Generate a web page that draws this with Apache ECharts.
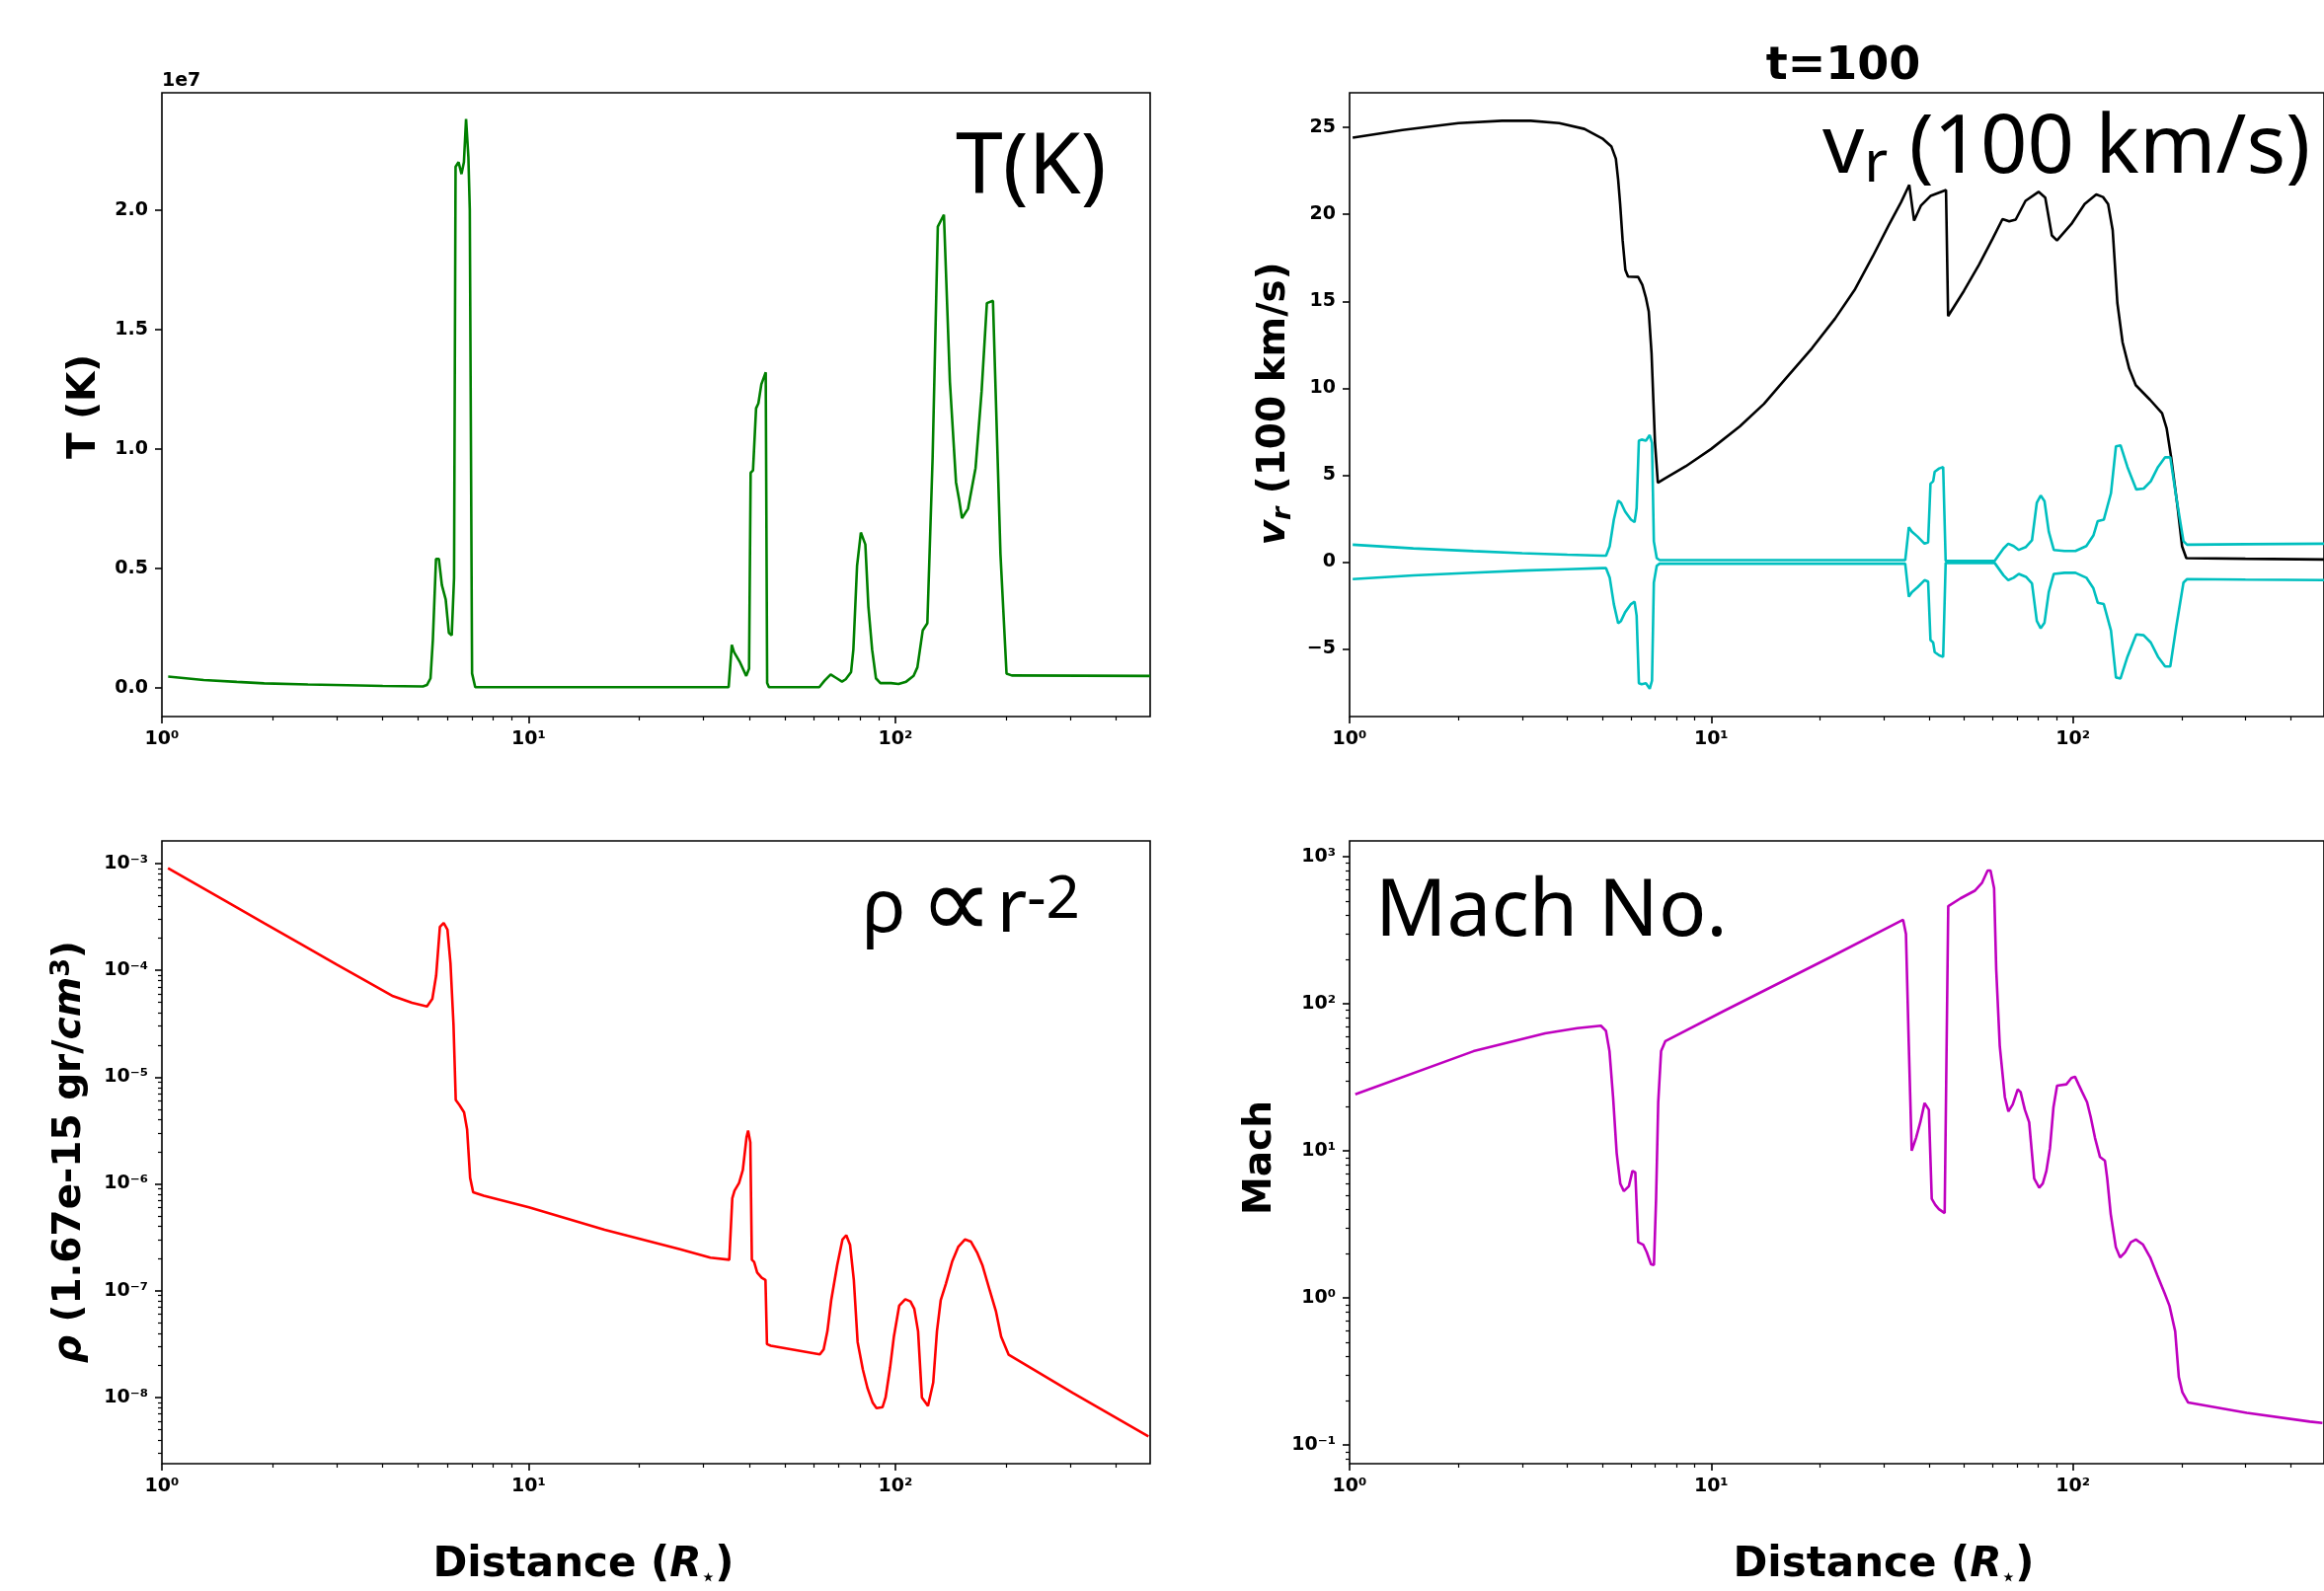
<!DOCTYPE html>
<html>
<head>
    <meta charset="utf-8">
    <style type="text/css">
        html, body {
            margin: 0;
            padding: 0;
            background: #fff;
        }
        #container {
            width: 2354px;
            height: 1612px;
        }
    </style>
    <script type="text/javascript" src="https://cdn.jsdelivr.net/npm/echarts@6.0.0/dist/echarts.min.js"></script>
</head>
<body>
<div id="container"></div>
<script type="text/javascript">
    // distance axis (R*), log
    const distMin = 1;
    const distMax = 495;
    const distTicks = [1, 10, 100];

    // tick labels of the four value axes
    const tempTicks = [0, 0.5, 1, 1.5, 2];
    const velTicks = [-5, 0, 5, 10, 15, 20, 25];
    const rhoTicks = [1e-8, 1e-7, 1e-6, 1e-5, 1e-4, 1e-3];
    const machTicks = [0.1, 1, 10, 100, 1000];

    // temperature, in units of 1e7 K
    const tempR = [1.04, 1.3, 1.6, 1.9, 2.5, 3.2, 4.0, 5.15, 5.28, 5.40,
        5.48, 5.59, 5.69, 5.80, 5.94, 6.06, 6.17, 6.26, 6.32, 6.44,
        6.56, 6.66, 6.75, 6.85, 6.91, 7.01, 7.15, 35.1, 35.8, 36.3,
        37.6, 39.2, 39.9, 40.3, 40.9, 41.7, 42.3, 43.1, 44.3, 44.7,
        45.2, 62.0, 64.1, 66.6, 69.2, 71.5, 73.2, 75.7, 76.8, 78.6,
        80.5, 82.8, 84.4, 86.4, 88.5, 91.0, 97.3, 102.0, 107.0, 112.1,
        114.8, 118.7, 122.2, 126.3, 130.5, 135.6, 140.8, 146.3, 149.1, 151.9,
        157.8, 165.4, 171.8, 177.6, 184.5, 193.4, 200.9, 207.7, 495];
    const tempVal = [0.047, 0.033, 0.025, 0.019, 0.014, 0.011, 0.008, 0.006, 0.012, 0.04,
        0.2, 0.54, 0.54, 0.43, 0.37, 0.23, 0.22, 0.46, 2.18, 2.2,
        2.15, 2.2, 2.38, 2.22, 2.0, 0.06, 0.003, 0.003, 0.18, 0.15,
        0.11, 0.05, 0.08, 0.9, 0.91, 1.17, 1.19, 1.27, 1.32, 0.02,
        0.003, 0.003, 0.03, 0.056, 0.04, 0.026, 0.036, 0.066, 0.16, 0.51,
        0.65, 0.6, 0.34, 0.16, 0.04, 0.02, 0.02, 0.016, 0.026, 0.05,
        0.086, 0.24, 0.27, 0.96, 1.93, 1.98, 1.28, 0.86, 0.79, 0.71,
        0.75, 0.92, 1.24, 1.61, 1.62, 0.56, 0.06, 0.052, 0.05];

    // radial velocity (100 km/s)
    const velR = [1.02, 1.4, 2.0, 2.64, 3.17, 3.8, 4.46, 5.0, 5.3, 5.45,
        5.53, 5.6, 5.69, 5.79, 5.89, 6.28, 6.45, 6.6, 6.72, 6.84,
        6.99, 7.12, 7.4, 8.5, 10, 12, 14, 16, 19, 22,
        25, 28, 31, 33.5, 35.3, 36.4, 38.0, 40.4, 43.9, 44.6,
        45.2, 50, 55, 60, 63.9, 66.7, 69.5, 74.0, 80.4, 83.9,
        87.5, 90.4, 99.1, 107.8, 116.1, 121.2, 125.2, 128.9, 132.8, 137.3,
        143.2, 149.3, 163.7, 176.5, 181.7, 187.1, 195, 200.5, 206, 300, 495];
    const velVal = [24.42, 24.86, 25.25, 25.39, 25.39, 25.25, 24.92, 24.37, 23.9, 23.2,
        22.0, 20.6, 18.5, 16.8, 16.42, 16.4, 15.95, 15.2, 14.4, 12.0,
        6.9, 4.55, 4.77, 5.5, 6.5, 7.8, 9.1, 10.5, 12.3, 14.0,
        15.7, 17.6, 19.4, 20.7, 21.7, 19.64, 20.5, 21.06, 21.35, 21.4,
        14.15, 15.6, 17.1, 18.6, 19.73, 19.6, 19.7, 20.78, 21.3, 20.96,
        18.79, 18.5, 19.45, 20.6, 21.15, 21.0, 20.6, 19.09, 14.9, 12.63,
        11.12, 10.17, 9.32, 8.56, 7.7, 6.0, 3.1, 0.9, 0.22, 0.18, 0.14];

    // cyan pair (+ / -)
    const sndR = [1.02, 1.5, 2.2, 3.0, 4.0, 5.0, 5.12, 5.24, 5.38, 5.53,
        5.63, 5.78, 6.0, 6.14, 6.22, 6.31, 6.42, 6.6, 6.76, 6.86,
        6.94, 7.07, 7.2, 34.4, 35.2, 35.9, 37.2, 38.9, 39.8, 40.4,
        41.1, 41.5, 42.7, 43.8, 44.5, 60.8, 64.3, 66.3, 68.6, 70.9,
        74.2, 77.1, 79.5, 81.5, 83.5, 85.8, 88.6, 94.8, 101.7, 109,
        114, 117.2, 121.8, 127.5, 131.6, 135.5, 141.6, 149.8, 157, 164.3,
        172, 180, 186, 193.4, 202.3, 207, 300, 495];
    const sndUp = [0.99, 0.78, 0.62, 0.5, 0.42, 0.36, 0.36, 0.9, 2.43, 3.53,
        3.4, 2.9, 2.43, 2.29, 3.1, 6.98, 7.04, 6.98, 7.3, 6.84,
        1.19, 0.22, 0.1, 0.1, 2.0, 1.74, 1.46, 1.05, 1.13, 4.5,
        4.64, 5.19, 5.38, 5.46, 0.06, 0.06, 0.77, 1.05, 0.91, 0.69,
        0.86, 1.24, 3.4, 3.82, 3.5, 1.74, 0.69, 0.63, 0.63, 0.91,
        1.52, 2.35, 2.43, 3.95, 6.65, 6.71, 5.46, 4.17, 4.22, 4.64,
        5.46, 6.02, 6.02, 3.67, 1.19, 0.99, 1.02, 1.05];
    const sndDown = [-0.99, -0.78, -0.62, -0.5, -0.42, -0.36, -0.36, -0.9, -2.43, -3.53,
        -3.4, -2.9, -2.43, -2.29, -3.1, -6.98, -7.04, -6.98, -7.3, -6.84,
        -1.19, -0.22, -0.1, -0.1, -2.0, -1.74, -1.46, -1.05, -1.13, -4.5,
        -4.64, -5.19, -5.38, -5.46, -0.06, -0.06, -0.77, -1.05, -0.91, -0.69,
        -0.86, -1.24, -3.4, -3.82, -3.5, -1.74, -0.69, -0.63, -0.63, -0.91,
        -1.52, -2.35, -2.43, -3.95, -6.65, -6.71, -5.46, -4.17, -4.22, -4.64,
        -5.46, -6.02, -6.02, -3.67, -1.19, -0.99, -1.02, -1.05];

    // density (1.67e-15 gr/cm^3)
    const rhoR = [1.039, 1.503, 1.906, 2.416, 3.0, 3.531, 4.268, 4.806, 5.284, 5.463,
        5.594, 5.728, 5.866, 6.006, 6.121, 6.238, 6.327, 6.479, 6.666, 6.794,
        6.925, 7.058, 7.542, 10.02, 16.11, 25.88, 31.29, 35.24, 35.91, 36.42,
        37.47, 38.37, 39.28, 39.66, 40.22, 40.61, 41.19, 41.99, 43.19, 44.23,
        44.65, 45.72, 62.23, 63.72, 65.25, 66.82, 69.40, 71.74, 73.46, 75.22,
        77.02, 78.88, 81.53, 83.90, 86.73, 88.81, 92.26, 94.02, 96.72, 99.06,
        102.4, 106.4, 109.9, 112.6, 115.3, 118.1, 122.7, 126.8, 129.8, 132.9,
        137.4, 142.7, 148.3, 154.7, 160.7, 166.9, 172.6, 180.9, 187.9, 194.2,
        203.7, 304.8, 489.8];
    const rhoVal = [9.06e-4, 4.39e-4, 2.75e-4, 1.73e-4, 1.13e-4, 8.26e-5, 5.73e-5, 4.97e-5, 4.60e-5, 5.42e-5,
        8.91e-5, 2.55e-4, 2.78e-4, 2.41e-4, 1.17e-4, 3.13e-5, 6.10e-6, 5.46e-6, 4.68e-6, 3.25e-6,
        1.14e-6, 8.36e-7, 7.76e-7, 6.03e-7, 3.72e-7, 2.45e-7, 2.04e-7, 1.95e-7, 7.33e-7, 8.65e-7,
        1.02e-6, 1.35e-6, 2.75e-6, 3.16e-6, 2.45e-6, 1.95e-7, 1.86e-7, 1.48e-7, 1.32e-7, 1.26e-7,
        3.16e-8, 3.05e-8, 2.53e-8, 2.82e-8, 4.17e-8, 8.13e-8, 1.74e-7, 3.02e-7, 3.31e-7, 2.69e-7,
        1.26e-7, 3.31e-8, 1.82e-8, 1.23e-8, 8.91e-9, 7.94e-9, 8.13e-9, 1.0e-8, 1.91e-8, 3.72e-8,
        7.24e-8, 8.32e-8, 7.94e-8, 6.76e-8, 4.17e-8, 1.0e-8, 8.32e-9, 1.38e-8, 4.17e-8, 8.13e-8,
        1.17e-7, 1.86e-7, 2.57e-7, 3.02e-7, 2.88e-7, 2.29e-7, 1.74e-7, 1.0e-7, 6.46e-8, 3.72e-8,
        2.51e-8, 1.10e-8, 4.33e-9];

    // Mach number
    const machR = [1.037, 2.201, 3.472, 4.263, 4.955, 5.115, 5.233, 5.354, 5.478, 5.605,
        5.734, 5.920, 6.057, 6.168, 6.281, 6.485, 6.635, 6.819, 6.945, 7.040,
        7.137, 7.268, 7.470, 10.85, 21.51, 33.94, 34.56, 35.20, 35.85, 36.84,
        37.86, 38.91, 39.99, 40.73, 41.67, 42.63, 44.22, 45.24, 48.89, 53.56,
        56.05, 58.14, 59.21, 60.58, 61.41, 62.81, 64.86, 66.35, 68.19, 70.40,
        71.70, 73.69, 75.74, 78.20, 80.74, 82.60, 84.51, 86.46, 88.42, 90.46,
        95.98, 99.08, 101.4, 103.7, 106.1, 109.5, 112.1, 115.2, 118.9, 122.7,
        124.5, 127.3, 131.5, 135.1, 139.5, 144.7, 149.4, 156.4, 163.7, 171.3,
        179.3, 185.1, 191.9, 196.4, 200.9, 208.4, 302.8, 452.3, 490];
    const machVal = [24.2, 47.5, 62.8, 68.1, 70.8, 65.5, 47.5, 23.2, 9.64, 5.98,
        5.31, 5.74, 7.29, 7.13, 2.39, 2.30, 2.04, 1.69, 1.67, 4.71,
        21.4, 47.5, 55.7, 89.3, 209, 372, 298, 51.5, 10.0, 12.2,
        15.6, 21.1, 19.0, 4.71, 4.28, 4.01, 3.77, 461, 520, 586,
        661, 805, 805, 610, 170, 51.5, 23.2, 18.5, 20.6, 26.1,
        25.1, 19.0, 15.6, 6.47, 5.61, 5.98, 7.29, 10.4, 19.8, 27.7,
        28.3, 31.2, 31.9, 28.3, 25.1, 21.4, 16.9, 12.2, 9.06, 8.55,
        6.47, 3.71, 2.21, 1.88, 2.04, 2.39, 2.49, 2.30, 1.88, 1.42,
        1.08, 0.881, 0.592, 0.289, 0.228, 0.194, 0.165, 0.144, 0.141];

    function zip(xs, ys) {
        return xs.map(function (x, i) { return [x, ys[i]]; });
    }

    // 2..9 x 10^k between lo and hi
    function minorLogTicks(lo, hi) {
        const out = [];
        for (let e = Math.floor(Math.log10(lo)); e <= Math.ceil(Math.log10(hi)); e++) {
            for (let m = 2; m <= 9; m++) {
                const v = m * Math.pow(10, e);
                if (v > lo && v < hi) out.push(v);
            }
        }
        return out;
    }

    const SUP = {'-': '\u207B', '0': '\u2070', '1': '\u00B9', '2': '\u00B2', '3': '\u00B3',
        '4': '\u2074', '5': '\u2075', '6': '\u2076', '7': '\u2077', '8': '\u2078', '9': '\u2079'};
    function pow10Label(v) {
        const e = String(Math.round(Math.log10(v)));
        return '10' + e.split('').map(function (c) { return SUP[c]; }).join('');
    }

    const tickFont = {fontFamily: 'DejaVu Sans', fontWeight: 'bold', fontSize: 19, color: '#000'};

    function majorAxis(gridIndex, type, min, max, ticks, fmt, pos) {
        return {
            type: type, gridIndex: gridIndex, min: min, max: max, position: pos,
            axisLine: {show: false, onZero: false}, splitLine: {show: false},
            axisTick: {show: true, customValues: ticks, length: 7, lineStyle: {color: '#000', width: 1.6}},
            axisLabel: Object.assign({customValues: ticks, formatter: fmt, margin: 14}, tickFont)
        };
    }
    function minorAxis(gridIndex, min, max, pos) {
        return {
            type: 'log', gridIndex: gridIndex, min: min, max: max, position: pos,
            axisLine: {show: false, onZero: false}, splitLine: {show: false},
            axisTick: {show: true, customValues: minorLogTicks(min, max), length: 4, lineStyle: {color: '#000', width: 1.2}},
            axisLabel: {show: false}
        };
    }

    const frame = {show: true, borderColor: '#000', borderWidth: 1.6, backgroundColor: 'transparent'};
    const grids = [
        Object.assign({left: 164, top: 94, width: 1001, height: 632}, frame),
        Object.assign({left: 1367, top: 94, width: 1001, height: 632}, frame),
        Object.assign({left: 164, top: 852, width: 1001, height: 631}, frame),
        Object.assign({left: 1367, top: 852, width: 1001, height: 631}, frame)
    ];

    const xAxes = [];
    for (let g = 0; g < 4; g++) {
        xAxes.push(majorAxis(g, 'log', distMin, distMax, distTicks, pow10Label, 'bottom'));
        xAxes.push(minorAxis(g, distMin, distMax, 'bottom'));
    }

    const rhoMin = 2.4e-9, rhoMax = 1.63e-3;
    const machMin = 0.0745, machMax = 1279;
    const yAxes = [
        majorAxis(0, 'value', -0.12, 2.49, tempTicks, function (v) { return v.toFixed(1); }, 'left'),
        majorAxis(1, 'value', -8.9, 27.0, velTicks, function (v) { return v < 0 ? '\u2212' + (-v) : String(v); }, 'left'),
        majorAxis(2, 'log', rhoMin, rhoMax, rhoTicks, pow10Label, 'left'),
        minorAxis(2, rhoMin, rhoMax, 'left'),
        majorAxis(3, 'log', machMin, machMax, machTicks, pow10Label, 'left'),
        minorAxis(3, machMin, machMax, 'left')
    ];

    function line(xi, yi, data, color) {
        return {
            type: 'line', xAxisIndex: xi, yAxisIndex: yi, data: data,
            showSymbol: false, symbol: 'none', silent: true,
            lineStyle: {color: color, width: 2.6}, itemStyle: {color: color}
        };
    }

    const boldLabel = {fontFamily: 'DejaVu Sans', fontWeight: 'bold', fill: '#000'};
    function richStyle(size, lh, extra) {
        return Object.assign({fontSize: size, lineHeight: lh}, boldLabel, extra || {});
    }
    const handFont = {fontFamily: 'Noto Sans, DejaVu Sans', fill: '#000'};

    const graphics = [
        {type: 'text', x: 164, y: 82, style: Object.assign({text: '1e7', fontSize: 19, align: 'left', verticalAlign: 'middle'}, boldLabel)},
        {type: 'text', x: 1867, y: 68, style: Object.assign({text: 't=100', fontSize: 46, align: 'center', verticalAlign: 'middle'}, boldLabel)},
        // axis titles
        {type: 'text', x: 86, y: 412, rotation: Math.PI / 2,
            style: Object.assign({text: 'T (K)', fontSize: 39, align: 'center', verticalAlign: 'middle'}, boldLabel)},
        {type: 'text', x: 1291, y: 409, rotation: Math.PI / 2,
            style: {text: '{v|v}{r|r}{n| (100 km/s)}', align: 'center', verticalAlign: 'middle',
                rich: {n: richStyle(39, 44), v: richStyle(39, 44, {fontStyle: 'italic'}),
                    r: richStyle(27, 16, {fontStyle: 'italic', verticalAlign: 'bottom'})}}},
        {type: 'text', x: 71, y: 1167, rotation: Math.PI / 2,
            style: {text: '{g|\u03C1}{n| (1.67e-15 gr/}{i|cm}{p|3}{n|)}', align: 'center', verticalAlign: 'middle',
                rich: {n: richStyle(39, 44), g: richStyle(39, 44, {fontStyle: 'italic'}),
                    i: richStyle(39, 44, {fontStyle: 'italic'}),
                    p: richStyle(27, 18, {verticalAlign: 'top'})}}},
        {type: 'text', x: 1277, y: 1173, rotation: Math.PI / 2,
            style: Object.assign({text: 'Mach', fontSize: 39, align: 'center', verticalAlign: 'middle'}, boldLabel)},
        {type: 'text', x: 591, y: 1586,
            style: {text: '{n|Distance (}{i|R}{s|\u22C6}{n|)}', align: 'center', verticalAlign: 'middle',
                rich: {n: richStyle(42, 48), i: richStyle(42, 48, {fontStyle: 'italic'}),
                    s: richStyle(22, 14, {verticalAlign: 'bottom'})}}},
        {type: 'text', x: 1908, y: 1586,
            style: {text: '{n|Distance (}{i|R}{s|\u22C6}{n|)}', align: 'center', verticalAlign: 'middle',
                rich: {n: richStyle(42, 48), i: richStyle(42, 48, {fontStyle: 'italic'}),
                    s: richStyle(22, 14, {verticalAlign: 'bottom'})}}},
        // in-panel annotations
        {type: 'text', x: 968, y: 171,
            style: Object.assign({text: 'T(K)', fontSize: 86, align: 'left', verticalAlign: 'middle'}, handFont)},
        {type: 'text', x: 1846, y: 151,
            style: {text: '{a|v}{b|r}{a| (100 km/s)}', align: 'left', verticalAlign: 'middle',
                rich: {a: Object.assign({fontSize: 83, lineHeight: 90}, handFont),
                    b: Object.assign({fontSize: 58, lineHeight: 62, verticalAlign: 'bottom'}, handFont)}}},
        {type: 'text', x: 873, y: 923,
            style: {text: '{a|\u03C1}{m|\u221D}{a|r}{s|-2}', align: 'left', verticalAlign: 'middle',
                rich: {a: Object.assign({fontSize: 74, lineHeight: 80}, handFont),
                    m: {fontFamily: 'DejaVu Sans', fill: '#000', fontSize: 104, lineHeight: 80, padding: [0, 4, 0, 14]},
                    s: Object.assign({fontSize: 60, lineHeight: 40, verticalAlign: 'top'}, handFont)}}},
        {type: 'text', x: 1393, y: 925,
            style: Object.assign({text: 'Mach No.', fontSize: 80, align: 'left', verticalAlign: 'middle'}, handFont)}
    ];

    const myChart = echarts.init(document.getElementById('container'), null, {renderer: 'canvas'});
    myChart.setOption({
        animation: false,
        backgroundColor: '#fff',
        grid: grids,
        xAxis: xAxes,
        yAxis: yAxes,
        graphic: graphics,
        series: [
            line(0, 0, zip(tempR, tempVal), '#008000'),
            line(2, 1, zip(velR, velVal), '#000000'),
            line(2, 1, zip(sndR, sndUp), '#00bfbf'),
            line(2, 1, zip(sndR, sndDown), '#00bfbf'),
            line(4, 2, zip(rhoR, rhoVal), '#ff0000'),
            line(6, 4, zip(machR, machVal), '#bf00bf')
        ]
    });
</script>
</body>
</html>
